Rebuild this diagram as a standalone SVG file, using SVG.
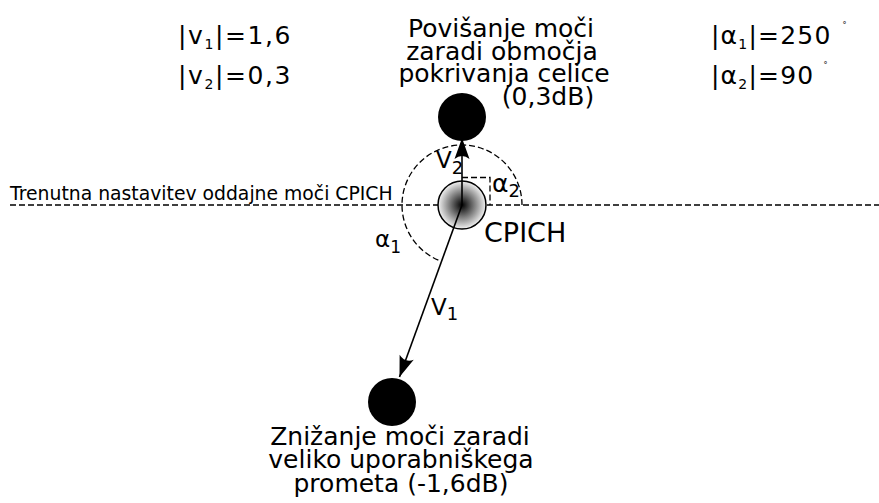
<svg xmlns="http://www.w3.org/2000/svg" width="879" height="503" viewBox="0 0 879 503">
  <style>
    text { font-family: "DejaVu Sans", "Liberation Sans", sans-serif; fill: #000; }
    .lbl { font-size: 25px; }
    .sub { font-size: 14px; }
    .sym { font-size: 23px; }
    .ssub { font-size: 18px; }
    .deg { font-size: 8px; }
    .dash { fill: none; stroke: #000; stroke-width: 1.3; stroke-dasharray: 6 3; }
    .vec { fill: none; stroke: #000; stroke-width: 1.6; marker-end: url(#head); }
    .dot { fill: #000; }
  </style>
  <defs>
    <radialGradient id="cpichFill" cx="0.5" cy="0.5" r="0.5">
      <stop offset="0" stop-color="#000"/>
      <stop offset="0.5" stop-color="#7a7a7a"/>
      <stop offset="1" stop-color="#f2f2f2"/>
    </radialGradient>
    <marker id="head" markerUnits="userSpaceOnUse" markerWidth="30" markerHeight="20" viewBox="-22 -10 24 20" refX="0" refY="0" orient="auto">
      <path d="M0,0 L-21,-7.5 Q-15,0 -21,7.5 Z" fill="#000"/>
    </marker>
  </defs>

  <!-- reference level and angle guides -->
  <g id="guides">
    <line class="dash" x1="10" y1="205" x2="879" y2="205"/>
    <path class="dash" d="M522,205 A60,60 0 1 0 441.5,261.4"/>
    <path class="dash" d="M462,177.5 H490 V205"/>
  </g>

  <g id="cpich">
    <circle cx="462" cy="205" r="24" fill="url(#cpichFill)" stroke="#000" stroke-width="1.5"/>
    <text x="484" y="242" style="font-size:27px">CPICH</text>
  </g>

  <g id="target-up">
    <circle class="dot" cx="462" cy="117" r="24"/>
  </g>

  <g id="target-down">
    <circle class="dot" cx="392" cy="402" r="24"/>
  </g>

  <!-- power change vectors -->
  <g id="connectors">
    <line class="vec" x1="462" y1="205" x2="462" y2="138"/>
    <line class="vec" x1="462" y1="205" x2="399.5" y2="377"/>
  </g>

  <g id="labels">
    <text x="10" y="200" style="font-size:18.8px">Trenutna nastavitev oddajne moči CPICH</text>

    <g class="lbl" letter-spacing="1.6">
      <text x="178" y="44">|v<tspan class="sub" dy="5">1</tspan><tspan dy="-5">|=1,6</tspan></text>
      <text x="178" y="84">|v<tspan class="sub" dy="5">2</tspan><tspan dy="-5">|=0,3</tspan></text>
    </g>

    <g class="lbl" letter-spacing="1.2">
      <text x="711" y="44">|α<tspan class="sub" dy="5">1</tspan><tspan dy="-5">|=250</tspan><tspan class="deg" dx="11" dy="-16">°</tspan></text>
      <text x="711" y="84">|α<tspan class="sub" dy="5">2</tspan><tspan dy="-5">|=90</tspan><tspan class="deg" dx="9" dy="-16">°</tspan></text>
    </g>

    <g text-anchor="middle" class="lbl">
      <text x="501" y="37">Povišanje moči</text>
      <text x="502" y="60">zaradi območja</text>
      <text x="504" y="82">pokrivanja celice</text>
      <text x="548" y="105">(0,3dB)</text>

      <text x="400" y="445">Znižanje moči zaradi</text>
      <text x="401" y="468">veliko uporabniškega</text>
      <text x="401" y="492">prometa (-1,6dB)</text>
    </g>

    <text class="sym" x="436" y="168">V<tspan class="ssub" dy="6">2</tspan></text>
    <text class="sym" x="431" y="315">V<tspan class="ssub" dy="5">1</tspan></text>
    <text class="sym" x="375" y="247">α<tspan class="sub" style="font-size:17px" dy="6">1</tspan></text>
    <text x="492" y="192" style="font-size:25px">α<tspan class="ssub" dy="5">2</tspan></text>
  </g>
</svg>
